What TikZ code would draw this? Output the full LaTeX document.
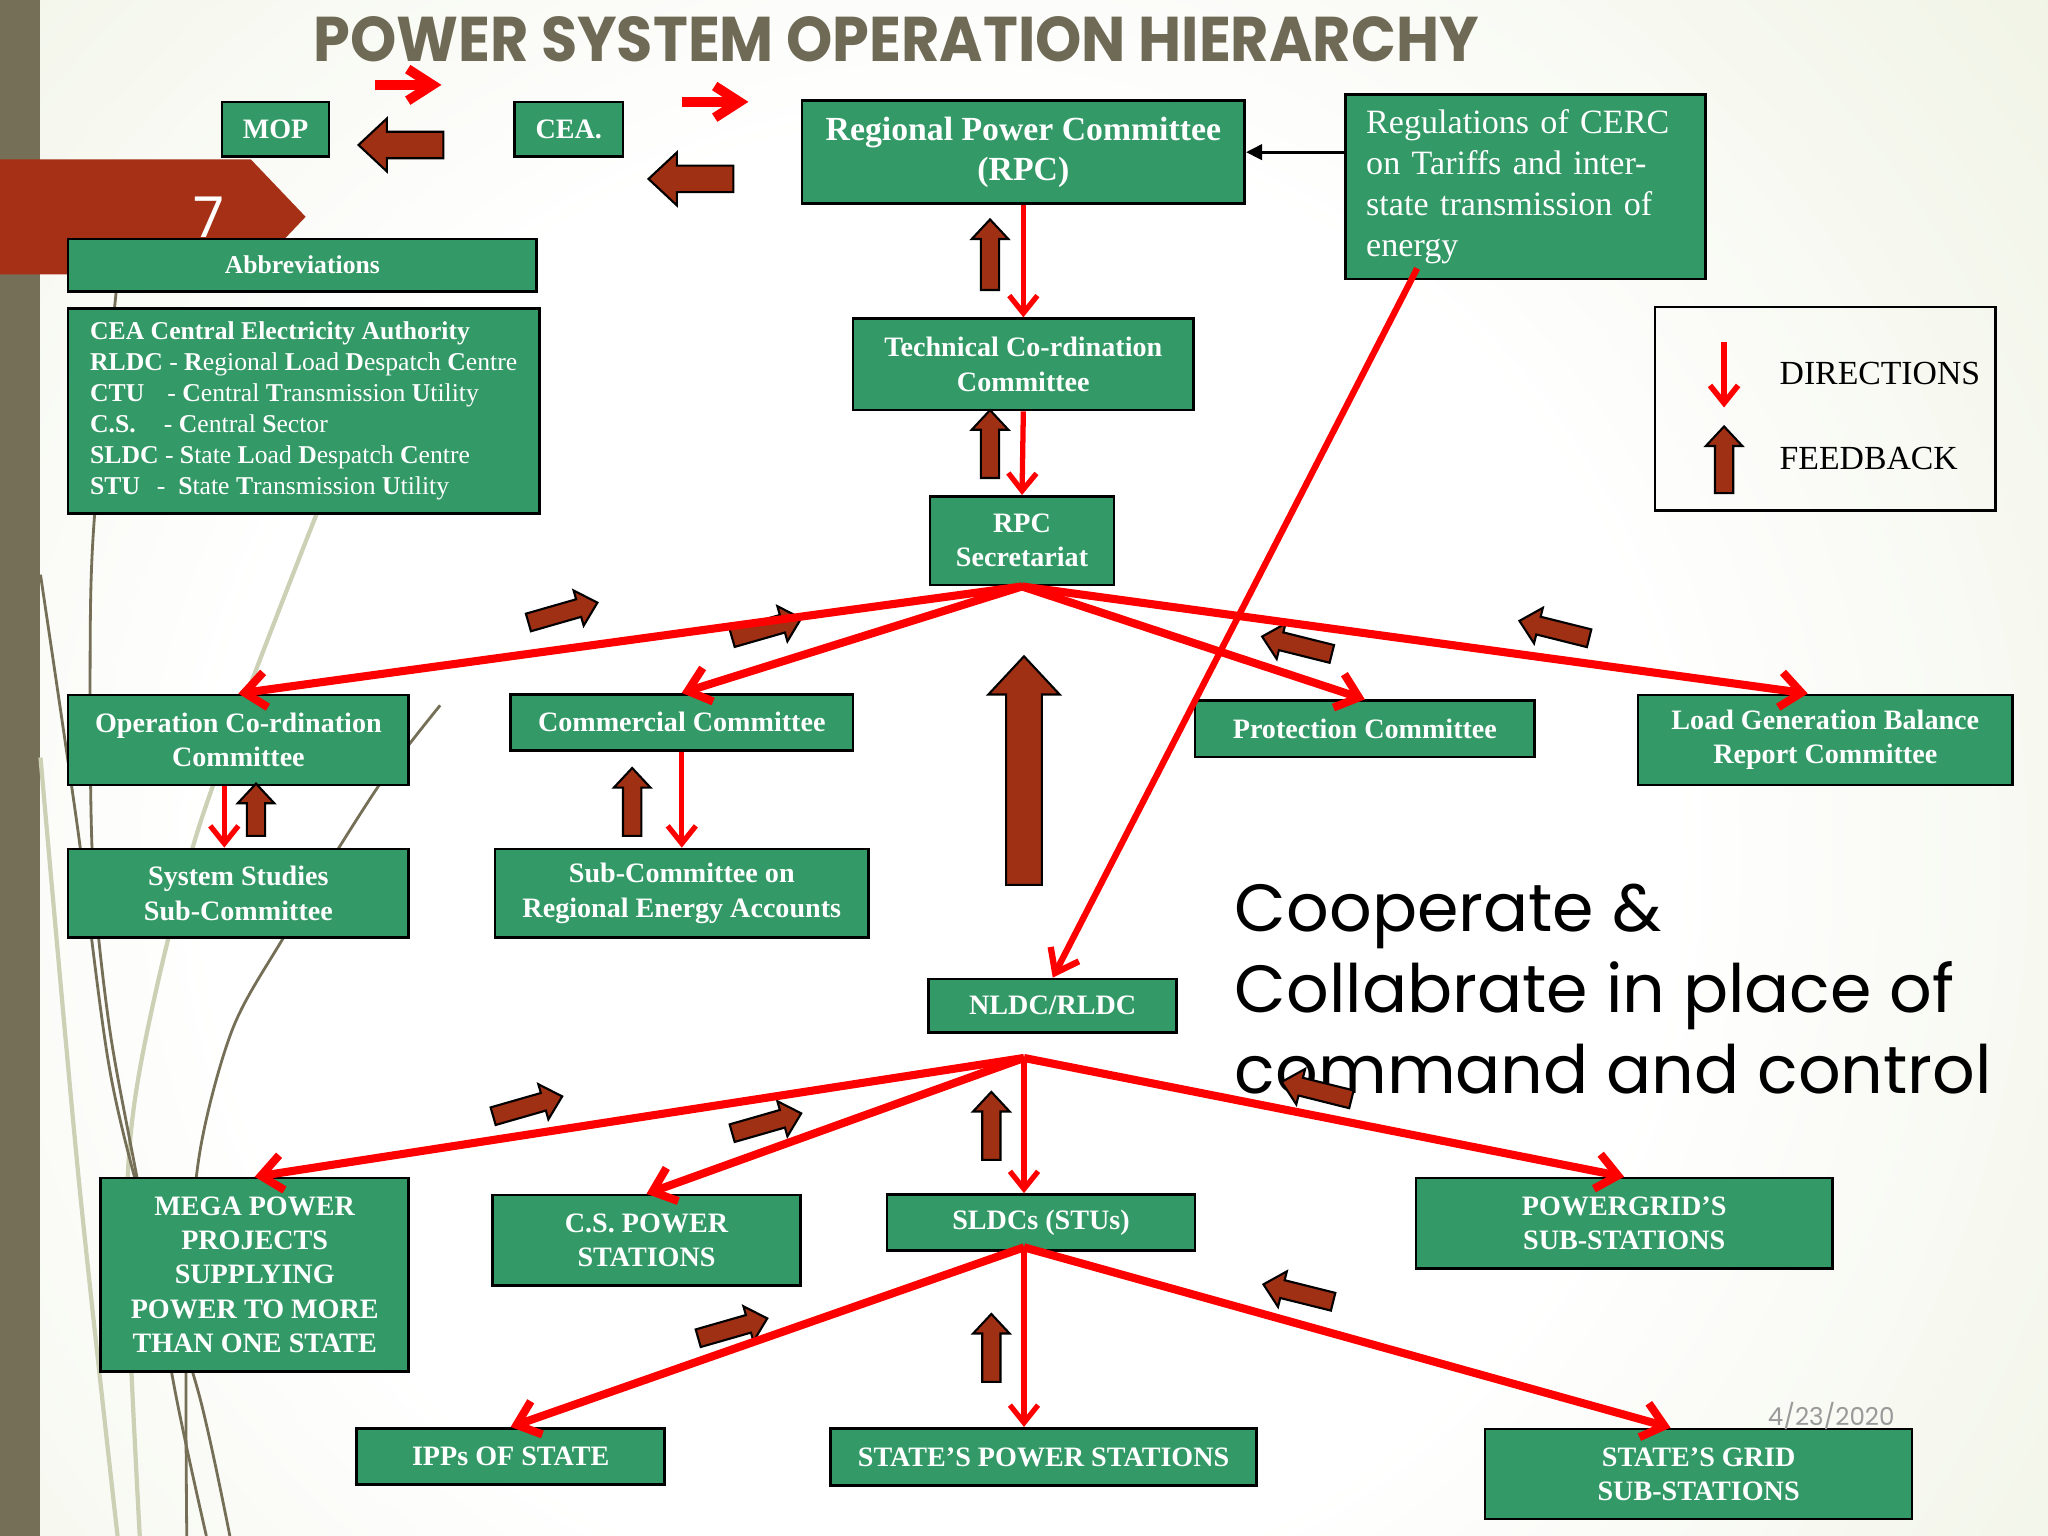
\documentclass[tikz,border=0pt]{standalone}
\usepackage{graphicx}
\usepackage{fontspec}
\setmainfont{Liberation Serif}
\newfontfamily\gothic{Poppins}
\usetikzlibrary{arrows.meta,calc}

\definecolor{boxgreen}{RGB}{51,153,102}
\definecolor{fbbrown}{RGB}{160,48,20}
\definecolor{tabred}{RGB}{166,48,22}
\definecolor{olive}{RGB}{117,111,87}
\definecolor{titleolive}{RGB}{110,106,85}
\definecolor{bgout}{RGB}{220,228,194}
\definecolor{bgpale}{RGB}{204,208,180}
\pgfdeclareradialshading{slidebg}{\pgfpoint{0bp}{0bp}}{color(0bp)=(white); color(10bp)=(white); color(32bp)=(bgout); color(50bp)=(bgout)}
\def\dpx{0.3716pt}

% block arrow for feedback: centre, angle, length, size
\newcommand{\feedarrow}[4]{%
  \pgfmathsetmacro{\fbl}{#3/2}
  \pgfmathsetmacro{\fbb}{7*#4}
  \pgfmathsetmacro{\fbh}{14*#4}
  \pgfmathsetmacro{\fbn}{#3/2-15*#4}
  \draw[feedback,shift={#1},rotate=#2] (-\fbl,-\fbb) -- (\fbn,-\fbb) -- (\fbn,-\fbh)
    -- (\fbl,0) -- (\fbn,\fbh) -- (\fbn,\fbb) -- (-\fbl,\fbb) -- cycle;}

\begin{document}
\begin{tikzpicture}[x=0.013061cm, y=-0.013061cm,
  box/.style={draw=black, line width=0.75pt, fill=boxgreen, text=white, align=center,
    inner sep=0pt, font=\fontsize{8}{9.7}\selectfont\bfseries},
  feedback/.style={draw=black, line width=0.6pt, fill=fbbrown, line join=miter},
  direct/.style={red, line width=2.3pt, -{Straight Barb[length=6pt,width=10pt]}},
  directthin/.style={red, line width=1.5pt, -{Straight Barb[length=5pt,width=8pt]}},
  decor/.style={olive, line width=0.8pt},
  decorpale/.style={bgpale, line width=1.2pt}]
  \useasboundingbox (0,0) rectangle (1568,1176);

  % slide background
  \fill[bgout] (0,0) rectangle (1568,1176);
  \begin{scope}
    \clip (0,0) rectangle (1568,1176);
    \shade[shading=slidebg] (720,660) circle[radius=1400];
  \end{scope}
  \fill[olive] (0,0) rectangle (31,1176);
  \draw[decorpale] plot[smooth] coordinates {(243,392) (153,631) (107,819) (97,945) (107,1176)};
  \draw[decorpale] plot[smooth] coordinates {(31,580) (60,900) (90,1176)};
  \draw[decor] plot[smooth] coordinates {(89,223) (72,400) (69,505) (71,662) (84,788) (107,913) (135,1070) (158,1176)};
  \draw[decor] plot[smooth] coordinates {(31,440) (59,631) (84,819) (115,945) (153,1070) (176,1176)};
  \draw[decor] plot[smooth] coordinates {(337,540) (289,603) (217,718) (178,788) (153,882) (143,1000) (143,1176)};
  \fill[tabred] (0,122) -- (192,122) -- (234,166) -- (192,210) -- (0,210) -- cycle;
  \node[text=white, font=\gothic\fontsize{16}{16}\selectfont] (pagenum) at (160,166) {7};

  % title
  \node (title) at (686,30) {\resizebox{331.5pt}{12.8pt}{\gothic\bfseries\color{titleolive}POWER SYSTEM OPERATION HIERARCHY}};

  % top row
  \node[box, minimum width=82*\dpx, minimum height=42*\dpx] (mop) at (211,99) {MOP};
  \node[box, minimum width=83*\dpx, minimum height=42*\dpx] (cea) at (435.5,99) {CEA.};
  \node[box, minimum width=339*\dpx, minimum height=79*\dpx,
    font=\fontsize{9.6}{11.5}\selectfont\bfseries] (rpc) at (783.5,116.5) {Regional Power Committee\\(RPC)};
  \node[box, minimum height=141*\dpx, inner xsep=16*\dpx, text width=244*\dpx, align=left,
    font=\fontsize{9.7}{11.6}\selectfont] (cerc) at (1168,143)
    {Regulations of CERC\\on Tariffs and inter-\\state transmission of\\energy};

  % abbreviations
  \node[box, minimum width=359*\dpx, minimum height=40*\dpx, font=\fontsize{7.3}{8.8}\selectfont\bfseries]
    (abbrh) at (231.5,203) {Abbreviations};
  \node[box, minimum width=361*\dpx, minimum height=157*\dpx, align=left, font=\fontsize{7.3}{8.85}\selectfont]
    (abbr) at (232.5,314.5)
    {\textbf{CEA Central Electricity Authority}\\
     \textbf{RLDC} - \textbf{R}egional \textbf{L}oad \textbf{D}espatch \textbf{C}entre\\
     \makebox[22pt][l]{\textbf{CTU}}- \textbf{C}entral \textbf{T}ransmission \textbf{U}tility\\
     \makebox[21pt][l]{\textbf{C.S.}}- \textbf{C}entral \textbf{S}ector\\
     \textbf{SLDC} - \textbf{S}tate \textbf{L}oad \textbf{D}espatch \textbf{C}entre\\
     \makebox[19pt][l]{\textbf{STU}}- \ \textbf{S}tate \textbf{T}ransmission \textbf{U}tility};

  % legend
  \node[draw=black, line width=0.75pt, minimum width=261*\dpx, minimum height=156*\dpx] (legend) at (1397.5,313) {};
  \node[anchor=west, inner sep=0pt, font=\fontsize{9.6}{11}\selectfont] (dirtxt) at (1362,286) {DIRECTIONS};
  \node[anchor=west, inner sep=0pt, font=\fontsize{9.6}{11}\selectfont] (fbtxt) at (1362,351) {FEEDBACK};

  % committees
  \node[box, minimum width=261*\dpx, minimum height=70*\dpx] (tech) at (783.5,279) {Technical Co-rdination\\Committee};
  \node[box, minimum width=141*\dpx, minimum height=68*\dpx] (sec) at (782.5,414) {RPC\\Secretariat};
  \node[box, minimum width=261*\dpx, minimum height=69*\dpx] (opc) at (182.5,566.5) {Operation Co-rdination\\Committee};
  \node[box, minimum width=262*\dpx, minimum height=43*\dpx] (cc) at (522,553) {Commercial Committee};
  \node[box, minimum width=260*\dpx, minimum height=43*\dpx] (pc) at (1045,558) {Protection Committee};
  \node[box, minimum width=287*\dpx, minimum height=69*\dpx] (lgb) at (1397.5,566.5) {Load Generation Balance\\Report Committee};
  \node[box, minimum width=261*\dpx, minimum height=68*\dpx] (ss) at (182.5,684) {System Studies\\Sub-Committee};
  \node[box, minimum width=286*\dpx, minimum height=68*\dpx] (sub) at (522,684) {Sub-Committee on\\Regional Energy Accounts};

  % despatch centres and stations
  \node[box, minimum width=190*\dpx, minimum height=41*\dpx] (nldc) at (806,770) {NLDC/RLDC};
  \node[box, minimum width=236*\dpx, minimum height=148*\dpx] (mega) at (195,976)
    {MEGA POWER\\PROJECTS\\SUPPLYING\\POWER TO MORE\\THAN ONE STATE};
  \node[box, minimum width=236*\dpx, minimum height=69*\dpx] (cs) at (495,949.5) {C.S. POWER\\STATIONS};
  \node[box, minimum width=236*\dpx, minimum height=43*\dpx] (sldc) at (797,936) {SLDCs (STUs)};
  \node[box, minimum width=319*\dpx, minimum height=69*\dpx] (pg) at (1243.5,936.5) {POWERGRID'S\\SUB-STATIONS};
  \node[box, minimum width=236*\dpx, minimum height=43*\dpx] (ipp) at (391,1115) {IPPs OF STATE};
  \node[box, minimum width=326*\dpx, minimum height=44*\dpx] (spower) at (799,1115.5) {STATE'S POWER STATIONS};
  \node[box, minimum width=327*\dpx, minimum height=69*\dpx] (sgrid) at (1300.5,1128.5) {STATE'S GRID\\SUB-STATIONS};

  \node[anchor=west, align=left, inner sep=0pt, font=\gothic\fontsize{19}{23}\selectfont] (motto) at (945,757)
    {Cooperate \&\\Collabrate in place of\\command and control};
  \node[text=black!40, font=\gothic\fontsize{7}{7}\selectfont] (date) at (1402,1084) {4/23/2020};

  \coordinate (nfan) at (784,810);
  \coordinate (sfan) at (784,955);

  % feedback arrows
  \feedarrow{(307,111)}{180}{65}{1.45}
  \feedarrow{(529,137)}{180}{65}{1.45}
  \feedarrow{(758,195)}{90}{54}{1}
  \feedarrow{(758,340)}{90}{52}{1}
  \feedarrow{(784,590)}{90}{175}{1.95}
  \feedarrow{(196,620)}{90}{40}{1}
  \feedarrow{(484,614)}{90}{52}{1}
  \feedarrow{(759,862)}{90}{52}{1}
  \feedarrow{(759,1032)}{90}{52}{1}
  \feedarrow{(1320,352)}{90}{51}{1}
  \feedarrow{(431,469)}{16}{55}{1}
  \feedarrow{(587,481)}{16}{55}{1}
  \feedarrow{(993,494)}{166}{55}{1}
  \feedarrow{(1190,482)}{166}{55}{1}
  \feedarrow{(404,847)}{16}{55}{1}
  \feedarrow{(587,860)}{16}{55}{1}
  \feedarrow{(1008,835)}{166}{55}{1}
  \feedarrow{(561,1017)}{16}{55}{1}
  \feedarrow{(994,990)}{166}{55}{1}

  % directions
  \draw[red, line width=2.8pt, -{Straight Barb[length=7pt,width=9pt]}] (287,65) -- (338,65);
  \draw[red, line width=2.8pt, -{Straight Barb[length=7pt,width=9pt]}] (522,78) -- (573,78);
  \draw[red, line width=1.6pt, -{Straight Barb[length=5pt,width=8pt]}] (1320,262) -- (1320,312);
  \draw[line width=0.9pt, -{Triangle[length=4.6pt,width=4.4pt]}] (cerc.west |- rpc.east) -- (rpc.east);
  \draw[directthin] (rpc.south) -- (tech.north);
  \draw[directthin] (tech.south) -- (sec.north);
  \draw[directthin] ([xshift=-4pt]opc.south) -- ([xshift=-4pt]ss.north);
  \draw[directthin] (cc.south) -- (sub.north);
  \draw[direct] (sec.south) -- (opc.north);
  \draw[direct] (sec.south) -- (cc.north);
  \draw[direct] (sec.south) -- (pc.north);
  \draw[direct] (sec.south) -- ([xshift=-5pt]lgb.north);
  \draw[red, line width=1.8pt, -{Straight Barb[length=6pt,width=9pt]}] ($(cerc.south west)+(56,-9)$) -- (nldc.north);
  \draw[direct] (nfan) -- (mega.north);
  \draw[direct] (nfan) -- (cs.north);
  \draw[directthin] (nfan) -- (nfan |- sldc.north);
  \draw[direct] (nfan) -- (pg.north);
  \draw[direct] (sfan) -- (ipp.north);
  \draw[directthin] (sfan) -- (sfan |- spower.north);
  \draw[direct] (sfan) -- ([xshift=-8pt]sgrid.north);
\end{tikzpicture}
\end{document}
